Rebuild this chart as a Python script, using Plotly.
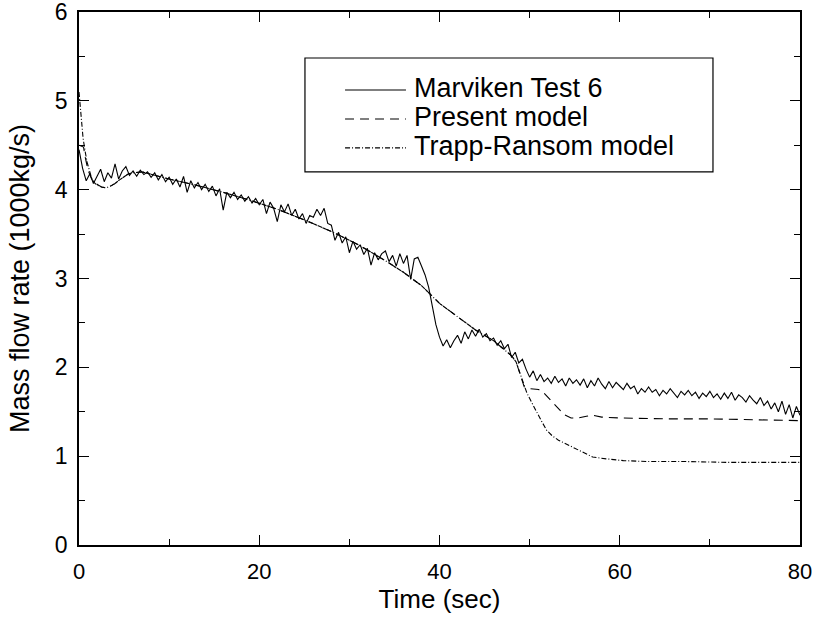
import plotly.graph_objects as go

# Marviken Test 6 measured mass flow rate (1000 kg/s), sampled every 0.4 s from t = 0
marv_t0 = 0.0
marv_dt = 0.4
marv_v = [
    4.45, 4.24, 4.10, 4.18, 4.07,
    4.15, 4.23, 4.09, 4.19, 4.13,
    4.29, 4.12, 4.21, 4.26, 4.16,
    4.21, 4.15, 4.22, 4.17, 4.20,
    4.14, 4.19, 4.11, 4.17, 4.09,
    4.14, 4.06, 4.12, 4.03, 4.15,
    3.97, 4.10, 4.02, 4.08, 4.00,
    4.06, 3.98, 4.04, 3.93, 4.01,
    3.77, 3.97, 3.91, 3.97, 3.89,
    3.94, 3.87, 3.92, 3.85, 3.90,
    3.83, 3.89, 3.73, 3.86, 3.79,
    3.64, 3.83, 3.75, 3.84, 3.71,
    3.78, 3.67, 3.73, 3.62, 3.71,
    3.69, 3.78, 3.71, 3.79, 3.62,
    3.60, 3.43, 3.52, 3.40, 3.47,
    3.29, 3.42, 3.33, 3.38, 3.27,
    3.34, 3.15, 3.29, 3.21, 3.28,
    3.31, 3.19, 3.26, 3.14, 3.28,
    3.17, 3.26, 2.99, 3.22, 3.24,
    3.14, 3.04, 2.90, 2.70, 2.48,
    2.34, 2.24, 2.31, 2.22, 2.30,
    2.36, 2.27, 2.40, 2.32, 2.42,
    2.35, 2.43, 2.34, 2.38, 2.30,
    2.33, 2.25, 2.30, 2.21, 2.26,
    2.11, 2.17, 2.05, 2.09, 1.98,
    1.89, 1.96, 1.85, 1.92, 1.84,
    1.88, 1.82, 1.90, 1.83, 1.87,
    1.79, 1.88, 1.82, 1.86, 1.80,
    1.87, 1.77, 1.85, 1.79, 1.88,
    1.81, 1.76, 1.84, 1.77, 1.83,
    1.79, 1.75, 1.82, 1.76, 1.79,
    1.70, 1.76, 1.72, 1.78, 1.72,
    1.75, 1.68, 1.74, 1.70, 1.76,
    1.71, 1.66, 1.73, 1.69, 1.74,
    1.68, 1.72, 1.65, 1.71, 1.67,
    1.73, 1.66, 1.70, 1.64, 1.71,
    1.65, 1.72, 1.63, 1.69, 1.66,
    1.61, 1.68, 1.63, 1.59, 1.66,
    1.57, 1.62, 1.53, 1.60, 1.50,
    1.62, 1.47, 1.58, 1.43, 1.56,
    1.46,
]

# Present model
pm_t = [0, 0.5, 0.7, 1.0, 1.4, 2.0, 2.5, 3.0, 3.5, 4.0, 4.5, 5.0, 5.5, 6.0, 7, 10, 13, 16,
        19, 22, 25, 28, 31, 34, 36, 38, 40, 42, 44, 46, 47, 48, 48.5, 49.0, 49.4, 50.0,
        51.0, 51.5, 52.2, 53.0, 53.8, 54.6, 55.4, 56.3, 57.0, 58, 60, 65, 70, 75, 80]
pm_v = [4.50, 4.48, 4.36, 4.22, 4.12, 4.06, 4.03, 4.02, 4.04, 4.07, 4.11, 4.15, 4.18, 4.19,
        4.20, 4.12, 4.05, 3.97, 3.88, 3.78, 3.66, 3.53, 3.38, 3.20, 3.07, 2.92, 2.72, 2.57,
        2.42, 2.30, 2.22, 2.13, 2.06, 1.90, 1.78, 1.76, 1.75, 1.72, 1.64, 1.55, 1.47, 1.43,
        1.43, 1.45, 1.46, 1.44, 1.43, 1.42, 1.42, 1.41, 1.40]

# Trapp-Ransom model
tr_t = [0, 0.2, 0.45, 0.7, 0.9, 1.2, 1.4, 1.7, 2.0, 2.5, 3.0, 3.5, 4.0, 4.5, 5.0, 5.5, 6.0,
        7, 10, 13, 16, 19, 22, 25, 28, 31, 34, 36, 38, 40, 42, 44, 46, 47, 48, 48.5, 49.0,
        49.7, 50.3, 50.8, 51.4, 51.9, 52.5, 53.2, 54.0, 54.8, 55.8, 57, 58.5, 60.4, 63,
        67, 72, 80]
tr_v = [5.10, 4.85, 4.58, 4.42, 4.31, 4.20, 4.13, 4.08, 4.05, 4.03, 4.02, 4.04, 4.07, 4.11,
        4.15, 4.18, 4.19, 4.20, 4.12, 4.05, 3.97, 3.88, 3.78, 3.66, 3.53, 3.38, 3.20, 3.07,
        2.92, 2.72, 2.57, 2.42, 2.30, 2.22, 2.13, 2.06, 1.92, 1.71, 1.59, 1.49, 1.38, 1.29,
        1.23, 1.18, 1.14, 1.10, 1.05, 0.99, 0.97, 0.95, 0.94, 0.94, 0.93, 0.93]

series_names = ["Marviken Test 6", "Present model", "Trapp-Ransom model"]
series_dash = ["solid", "9px,6px", "5px,2px,1px,2px"]
x_ticks = [0, 20, 40, 60, 80]
y_ticks = [0, 1, 2, 3, 4, 5, 6]

FONT = "Liberation Sans, Arial, Helvetica, sans-serif"

fig = go.Figure()
fig.add_trace(go.Scatter(x0=marv_t0, dx=marv_dt, y=marv_v, mode="lines", name=series_names[0],
                         line=dict(color="black", width=1.1, dash=series_dash[0])))
fig.add_trace(go.Scatter(x=pm_t, y=pm_v, mode="lines", name=series_names[1],
                         line=dict(color="black", width=1.1, dash=series_dash[1])))
fig.add_trace(go.Scatter(x=tr_t, y=tr_v, mode="lines", name=series_names[2],
                         line=dict(color="black", width=1.1, dash=series_dash[2])))

axis_common = dict(showline=True, linecolor="black", linewidth=1.5, mirror="allticks",
                   ticks="inside", ticklen=10, tickwidth=1, tickcolor="black",
                   showgrid=False, zeroline=False, automargin=False,
                   ticklabeloverflow="allow")

fig.update_xaxes(range=[0, 80], tickvals=x_ticks, ticktext=[str(v) for v in x_ticks],
                 minor=dict(dtick=10, tick0=0, ticks="inside", ticklen=6, tickcolor="black", showgrid=False),
                 tickfont=dict(family=FONT, size=22, color="black"),
                 title=dict(text="Time (sec)", font=dict(family=FONT, size=26, color="black"), standoff=2),
                 ticklabelstandoff=6, **axis_common)
fig.update_yaxes(range=[0, 6], tickvals=y_ticks, ticktext=[str(v) for v in y_ticks],
                 minor=dict(dtick=0.5, tick0=0, ticks="inside", ticklen=6, tickcolor="black", showgrid=False),
                 tickfont=dict(family=FONT, size=23, color="black"),
                 title=dict(text="Mass flow rate (1000kg/s)", font=dict(family=FONT, size=27, color="black"), standoff=17),
                 ticklabelstandoff=5, **axis_common)

# legend drawn as a framed box inside the plot (paper coordinates)
fig.add_shape(type="rect", xref="paper", yref="paper", x0=0.3134, x1=0.8793, y0=0.700, y1=0.9137,
              line=dict(color="black", width=1.2), fillcolor="rgba(0,0,0,0)")
leg_rows = [0.8537, 0.7992, 0.7450]
for name, dash, yy in zip(series_names, series_dash, leg_rows):
    fig.add_shape(type="line", xref="paper", yref="paper", x0=0.369, x1=0.4535, y0=yy, y1=yy,
                  line=dict(color="black", width=1.1, dash=dash))
    fig.add_annotation(xref="paper", yref="paper", x=0.462, y=yy + 0.003, xanchor="left", yanchor="middle",
                       text=name, showarrow=False, font=dict(family=FONT, size=27, color="black"))

fig.update_layout(
    width=816, height=617, autosize=False,
    margin=dict(l=79, r=16, t=12, b=72),
    paper_bgcolor="white", plot_bgcolor="white",
    font=dict(family=FONT, color="black"),
    showlegend=False,
)

fig.write_html("out.html")
